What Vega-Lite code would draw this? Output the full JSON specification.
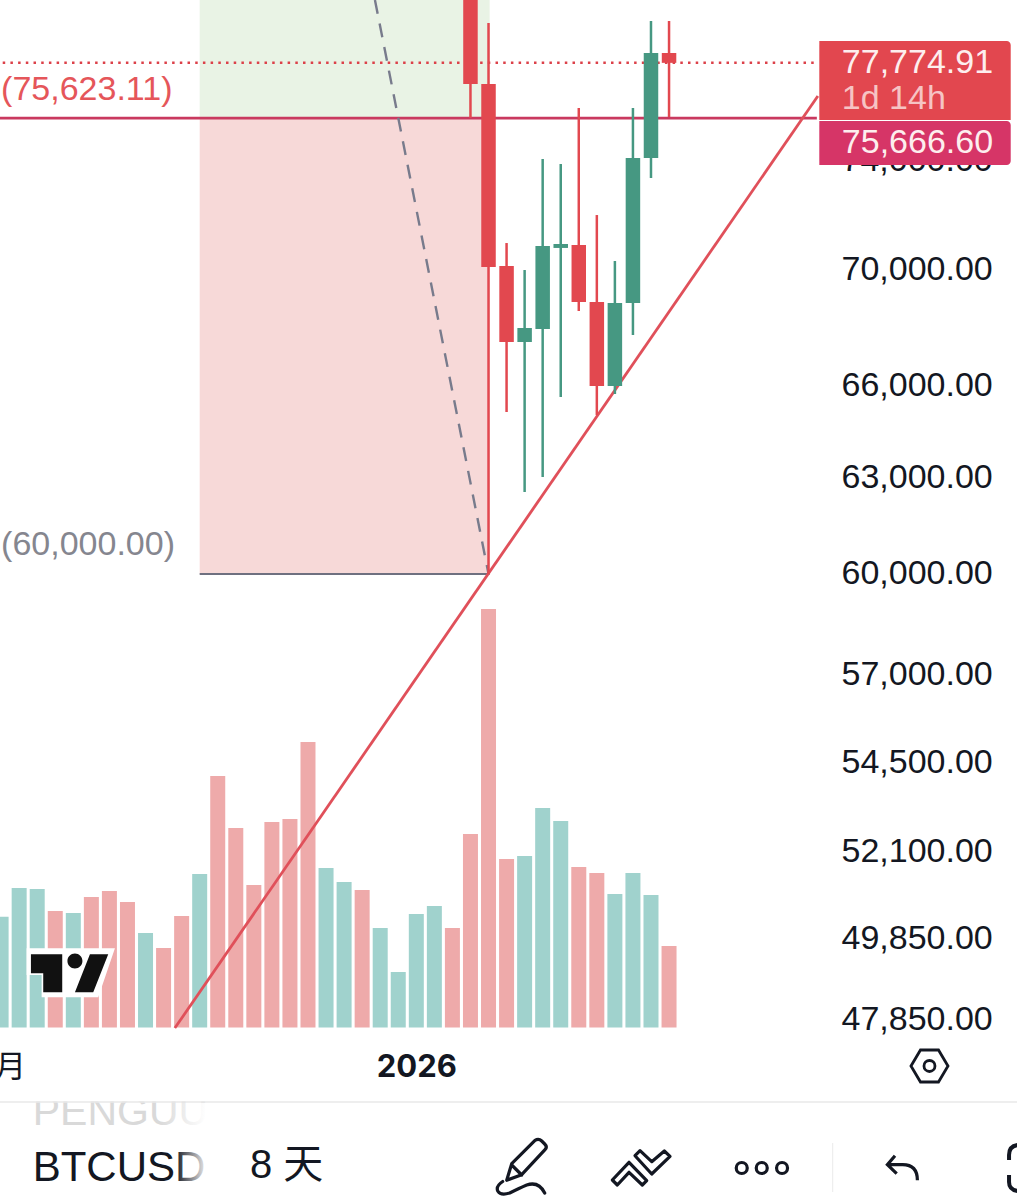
{
"$schema":"https://vega.github.io/schema/vega-lite/v6.json",
"width":1017,"height":1200,"autosize":"none","padding":0,"background":"#ffffff",
"config":{"view":{"stroke":null},"axis":{"grid":false}},
"datasets":{
"volume":[
{"date":"2025-07-01","volume":110.8,"dir":"up"},{"date":"2025-07-09","volume":139.5,"dir":"up"},{"date":"2025-07-17","volume":138.5,"dir":"up"},{"date":"2025-07-25","volume":116.5,"dir":"down"},{"date":"2025-08-02","volume":114.5,"dir":"up"},{"date":"2025-08-10","volume":130.5,"dir":"down"},{"date":"2025-08-18","volume":136.5,"dir":"down"},{"date":"2025-08-26","volume":125.5,"dir":"down"},{"date":"2025-09-03","volume":94.5,"dir":"up"},{"date":"2025-09-11","volume":79.5,"dir":"down"},{"date":"2025-09-19","volume":111.5,"dir":"down"},{"date":"2025-09-27","volume":153.5,"dir":"up"},{"date":"2025-10-05","volume":251.5,"dir":"down"},{"date":"2025-10-13","volume":199.5,"dir":"down"},{"date":"2025-10-21","volume":142.5,"dir":"down"},{"date":"2025-10-29","volume":205.5,"dir":"down"},{"date":"2025-11-06","volume":208.5,"dir":"down"},{"date":"2025-11-14","volume":285.5,"dir":"down"},{"date":"2025-11-22","volume":159.5,"dir":"up"},{"date":"2025-11-30","volume":145.5,"dir":"up"},{"date":"2025-12-08","volume":137.5,"dir":"down"},{"date":"2025-12-16","volume":99.5,"dir":"up"},{"date":"2025-12-24","volume":55.5,"dir":"up"},{"date":"2026-01-01","volume":113.5,"dir":"up"},{"date":"2026-01-09","volume":121.5,"dir":"up"},{"date":"2026-01-17","volume":99.5,"dir":"down"},{"date":"2026-01-25","volume":193.5,"dir":"down"},{"date":"2026-02-02","volume":418.5,"dir":"down"},{"date":"2026-02-10","volume":168.5,"dir":"down"},{"date":"2026-02-18","volume":171.5,"dir":"up"},{"date":"2026-02-26","volume":219.5,"dir":"up"},{"date":"2026-03-06","volume":206.5,"dir":"up"},{"date":"2026-03-14","volume":160.5,"dir":"down"},{"date":"2026-03-22","volume":154.5,"dir":"down"},{"date":"2026-03-30","volume":133.5,"dir":"up"},{"date":"2026-04-07","volume":154.5,"dir":"up"},{"date":"2026-04-15","volume":132.5,"dir":"up"},{"date":"2026-04-23","volume":81.5,"dir":"down"}],
"candles":[
{"date":"2026-01-25","open":82000,"close":76944,"high":84000,"low":75627,"dir":"down"},
{"date":"2026-02-02","open":76944,"close":70118,"high":79364,"low":60000,"dir":"down"},
{"date":"2026-02-10","open":70154,"close":67499,"high":70977,"low":65143,"dir":"down"},
{"date":"2026-02-18","open":67499,"close":67981,"high":70011,"low":62550,"dir":"up"},
{"date":"2026-02-26","open":67946,"close":70870,"high":74069,"low":63028,"dir":"up"},
{"date":"2026-03-06","open":70800,"close":70942,"high":73882,"low":65641,"dir":"up"},
{"date":"2026-03-14","open":70906,"close":68884,"high":76012,"low":68569,"dir":"down"},
{"date":"2026-03-22","open":68884,"close":66008,"high":71993,"low":65044,"dir":"down"},
{"date":"2026-03-30","open":66008,"close":68848,"high":70332,"low":65740,"dir":"up"},
{"date":"2026-04-07","open":68848,"close":74107,"high":76012,"low":67739,"dir":"up"},
{"date":"2026-04-15","open":74107,"close":78164,"high":79444,"low":73358,"dir":"up"},
{"date":"2026-04-23","open":78164,"close":77775,"high":79444,"low":75666,"dir":"down"}]
},
"layer":[
{"data":{"values":[{"price":60000}]},
 "mark":{"type":"rule","opacity":0},
 "encoding":{
  "y":{"field":"price","type":"quantitative","scale":{"type":"log","domain":[43667,80296],"nice":false},
    "axis":{"orient":"right","offset":-176,"title":null,"domain":false,"ticks":false,"tickSize":0,"labelPadding":0,"labelAlign":"left","labelBaseline":"middle","labelOffset":-0.5,"labelFont":"Liberation Sans","labelFontSize":34,"labelColor":"#131722","labelBound":false,"labelFlush":false,"labelOverlap":false,"format":",.2f","values":[47850,49850,52100,54500,57000,60000,63000,66000,70000,74000]}}
 }},
{"data":{"name":"volume"},
 "mark":{"type":"bar","size":15},
 "encoding":{
  "x":{"field":"date","type":"temporal","scale":{"type":"utc","domain":[1751285664000,1790225280000],"nice":false,"padding":0},
   "axis":{"orient":"bottom","offset":-133,"title":null,"domain":false,"ticks":false,"tickSize":0,"labelPadding":0,"values":[1751328000000,1767225600000],"labelExpr":"utcyear(datum.value)==2026?'2026':'7月'","labelFont":"Inter, 'Noto Sans CJK SC'","labelFontSize":31,"labelColor":"#131722","labelBaseline":"middle","labelAlign":"center","labelBound":false,"labelFlush":false,"labelOverlap":false,"labelFontWeight":{"condition":{"test":"utcyear(datum.value)==2026","value":"bold"},"value":"normal"}}},
  "y":{"field":"volume","type":"quantitative","stack":null,"scale":{"domain":[0,1027.5],"range":[1027.5,0],"nice":false},"axis":null},
  "color":{"condition":{"test":"datum.dir=='up'","value":"#a0d2cd"},"value":"#eeaaaa"}
 }},
{"layer":[
 {"data":{"values":[
   {"date":"2025-09-27","date2":"2026-02-02T12:00:00Z","top":80296,"bottom":75623,"zone":"profit"},
   {"date":"2025-09-27","date2":"2026-02-02T12:00:00Z","top":75623,"bottom":60000,"zone":"loss"}]},
  "mark":{"type":"rect"},
  "encoding":{
   "x":{"field":"date","type":"temporal"},"x2":{"field":"date2"},
   "y":{"field":"top","type":"quantitative","scale":{"type":"log","domain":[43667,80296],"nice":false},"axis":null},
   "y2":{"field":"bottom"},
   "color":{"condition":{"test":"datum.zone=='profit'","value":"#e9f3e5"},"value":"#f7d9d8"}
  }},
 {"data":{"values":[{"date":"2025-09-27","date2":"2026-02-02T12:00:00Z","price":60000}]},
  "mark":{"type":"rule","color":"#6f7080","strokeWidth":2.2},
  "encoding":{"x":{"field":"date","type":"temporal"},"x2":{"field":"date2"},"y":{"field":"price","type":"quantitative","scale":{"type":"log","domain":[43667,80296],"nice":false},"axis":null}}},
 {"data":{"values":[{"date":"2025-06-01","date2":"2026-06-27T12:00:00Z","price":75623}]},
  "mark":{"type":"rule","color":"#c9395f","strokeWidth":2.6,"clip":true},
  "encoding":{"x":{"field":"date","type":"temporal"},"x2":{"field":"date2"},"y":{"field":"price","type":"quantitative","scale":{"type":"log","domain":[43667,80296],"nice":false},"axis":null}}},
 {"data":{"values":[{"date":"2025-06-01","date2":"2026-06-27T12:00:00Z","price":77775}]},
  "mark":{"type":"rule","color":"#dc4049","strokeWidth":2.5,"strokeDash":[2.5,5.2],"clip":true},
  "encoding":{"x":{"field":"date","type":"temporal"},"x2":{"field":"date2"},"y":{"field":"price","type":"quantitative","scale":{"type":"log","domain":[43667,80296],"nice":false},"axis":null}}},
 {"data":{"values":[{"date":"2025-12-13T16:00:00Z","price":80296},{"date":"2026-02-02T00:00:00Z","price":60000}]},
  "mark":{"type":"line","color":"#787b8c","strokeWidth":2.4,"strokeDash":[14,10],"clip":true},
  "encoding":{"x":{"field":"date","type":"temporal"},"y":{"field":"price","type":"quantitative","scale":{"type":"log","domain":[43667,80296],"nice":false},"axis":null}}},
 {"data":{"values":[{"date":"2025-09-16T00:00:00Z","price":47649},{"date":"2026-06-27T23:00:00Z","price":76476}]},
  "mark":{"type":"line","color":"#e0505a","strokeWidth":2.8},
  "encoding":{"x":{"field":"date","type":"temporal"},"y":{"field":"price","type":"quantitative","scale":{"type":"log","domain":[43667,80296],"nice":false},"axis":null}}},
 {"data":{"name":"candles"},
  "mark":{"type":"rule","strokeWidth":2.5,"clip":true},
  "encoding":{"x":{"field":"date","type":"temporal"},"y":{"field":"high","type":"quantitative","scale":{"type":"log","domain":[43667,80296],"nice":false},"axis":null},"y2":{"field":"low"},
   "color":{"condition":{"test":"datum.dir=='up'","value":"#469882"},"value":"#e2484f"}}},
 {"data":{"name":"candles"},
  "mark":{"type":"bar","size":14.5,"clip":true},
  "encoding":{"x":{"field":"date","type":"temporal"},"y":{"field":"open","type":"quantitative","scale":{"type":"log","domain":[43667,80296],"nice":false},"axis":null},"y2":{"field":"close"},
   "color":{"condition":{"test":"datum.dir=='up'","value":"#469882"},"value":"#e2484f"}}},
 {"data":{"values":[
   {"date":"2026-06-28T14:00:00Z","date2":"2026-09-21T10:00:00Z","top":78642,"bottom":75552,"tag":"last"}]},
  "mark":{"type":"rect","cornerRadiusTopRight":4,"color":"#e2474f"},
  "encoding":{"x":{"field":"date","type":"temporal"},"x2":{"field":"date2"},"y":{"field":"top","type":"quantitative","scale":{"type":"log","domain":[43667,80296],"nice":false},"axis":null},"y2":{"field":"bottom"}}},
 {"data":{"values":[
   {"date":"2026-06-28T14:00:00Z","date2":"2026-09-21T10:00:00Z","top":75511,"bottom":73844,"tag":"line"}]},
  "mark":{"type":"rect","cornerRadiusTopRight":4,"cornerRadiusBottomRight":4,"color":"#d63567"},
  "encoding":{"x":{"field":"date","type":"temporal"},"x2":{"field":"date2"},"y":{"field":"top","type":"quantitative","scale":{"type":"log","domain":[43667,80296],"nice":false},"axis":null},"y2":{"field":"bottom"}}},
 {"data":{"values":[{"date":"2026-07-08T14:00:00Z","price":77770,"label":"77,774.91"},{"date":"2026-07-08T14:00:00Z","price":74675,"label":"75,666.60"}]},
  "mark":{"type":"text","align":"left","baseline":"middle","font":"Liberation Sans","fontSize":34,"color":"#fdeeee"},
  "encoding":{"x":{"field":"date","type":"temporal"},"y":{"field":"price","type":"quantitative","scale":{"type":"log","domain":[43667,80296],"nice":false},"axis":null},"text":{"field":"label"}}},
 {"data":{"values":[{"date":"2026-07-08T14:00:00Z","price":76360,"label":"1d 14h"}]},
  "mark":{"type":"text","align":"left","baseline":"middle","font":"Liberation Sans","fontSize":34,"color":"#f6c4c4"},
  "encoding":{"x":{"field":"date","type":"temporal"},"y":{"field":"price","type":"quantitative","scale":{"type":"log","domain":[43667,80296],"nice":false},"axis":null},"text":{"field":"label"}}},
 {"data":{"values":[{"date":"2025-07-01","price":76710,"label":"(75,623.11)"}]},
  "mark":{"type":"text","align":"left","baseline":"middle","font":"Liberation Sans","fontSize":34,"color":"#e5565a"},
  "encoding":{"x":{"field":"date","type":"temporal"},"y":{"field":"price","type":"quantitative","scale":{"type":"log","domain":[43667,80296],"nice":false},"axis":null},"text":{"field":"label"}}},
 {"data":{"values":[{"date":"2025-07-01","price":60890,"label":"(60,000.00)"}]},
  "mark":{"type":"text","align":"left","baseline":"middle","font":"Liberation Sans","fontSize":34,"color":"#85868f"},
  "encoding":{"x":{"field":"date","type":"temporal"},"y":{"field":"price","type":"quantitative","scale":{"type":"log","domain":[43667,80296],"nice":false},"axis":null},"text":{"field":"label"}}},
 {"data":{"values":[{"date":"2025-07-31T12:00:00Z","price":48991}]},
  "mark":{"type":"point","size":4,"filled":true,"opacity":1,"color":"#ffffff","shape":"M-43.3,-25 L45,-25 L28.3,24 L-28.3,24 L-28.3,1.7 L-43.3,1.7 Z"},
  "encoding":{"x":{"field":"date","type":"temporal"},"y":{"field":"price","type":"quantitative","scale":{"type":"log","domain":[43667,80296],"nice":false},"axis":null}}},
 {"data":{"values":[{"date":"2025-07-31T12:00:00Z","price":48991}]},
  "mark":{"type":"point","size":4,"filled":true,"opacity":1,"color":"#111111","shape":"M-39,-19 L-7.7,-19 L-7.7,19 L-26.7,19 L-26.7,0 L-39,0 Z M20,-19 L38.3,-19 L23.3,19 L5,19 Z M12.5,-12.3 A7.5,7.5 0 1 1 -2.5,-12.3 A7.5,7.5 0 1 1 12.5,-12.3 Z"},
  "encoding":{"x":{"field":"date","type":"temporal"},"y":{"field":"price","type":"quantitative","scale":{"type":"log","domain":[43667,80296],"nice":false},"axis":null}}},
 {"data":{"values":[{"date":"2025-07-15T00:00:00Z","price":45640,"label":"PENGUU"}]},
  "mark":{"type":"text","align":"left","baseline":"middle","font":"Liberation Sans","fontSize":41,"color":"#d9d9d9"},
  "encoding":{"x":{"field":"date","type":"temporal"},"y":{"field":"price","type":"quantitative","scale":{"type":"log","domain":[43667,80296],"nice":false},"axis":null},"text":{"field":"label"}}},
 {"data":{"values":[{"date":"2025-07-01","date2":"2025-10-10","top":46408,"bottom":45904}]},
  "mark":{"type":"rect","color":"#ffffff"},
  "encoding":{"x":{"field":"date","type":"temporal"},"x2":{"field":"date2"},"y":{"field":"top","type":"quantitative","scale":{"type":"log","domain":[43667,80296],"nice":false},"axis":null},"y2":{"field":"bottom"}}},
 {"data":{"values":[{"date":"2025-06-01","date2":"2026-12-01","price":45894}]},
  "mark":{"type":"rule","color":"#e8e8e8","strokeWidth":1.5,"clip":true},
  "encoding":{"x":{"field":"date","type":"temporal"},"x2":{"field":"date2"},"y":{"field":"price","type":"quantitative","scale":{"type":"log","domain":[43667,80296],"nice":false},"axis":null}}},
 {"data":{"values":[{"date":"2025-07-15T00:00:00Z","price":44382,"label":"BTCUSD"}]},
  "mark":{"type":"text","align":"left","baseline":"middle","font":"Liberation Sans","fontSize":42,"color":"#131722"},
  "encoding":{"x":{"field":"date","type":"temporal"},"y":{"field":"price","type":"quantitative","scale":{"type":"log","domain":[43667,80296],"nice":false},"axis":null},"text":{"field":"label"}}},
 {"data":{"values":[{"date":"2025-09-09","date2":"2025-09-30","top":45870,"bottom":45246},{"date":"2025-09-16","date2":"2025-10-01","top":44903,"bottom":43778}]},
  "mark":{"type":"rect","fill":{"gradient":"linear","x1":0,"y1":0,"x2":1,"y2":0,"stops":[{"offset":0,"color":"rgba(255,255,255,0)"},{"offset":1,"color":"rgba(255,255,255,1)"}]}},
  "encoding":{"x":{"field":"date","type":"temporal"},"x2":{"field":"date2"},"y":{"field":"top","type":"quantitative","scale":{"type":"log","domain":[43667,80296],"nice":false},"axis":null},"y2":{"field":"bottom"}}},
 {"data":{"values":[{"date":"2025-10-19T07:00:00Z","price":44420,"label":"8 天"}]},
  "mark":{"type":"text","align":"left","baseline":"middle","font":"Liberation Sans, 'Noto Sans CJK SC'","fontSize":40,"color":"#131722"},
  "encoding":{"x":{"field":"date","type":"temporal"},"y":{"field":"price","type":"quantitative","scale":{"type":"log","domain":[43667,80296],"nice":false},"axis":null},"text":{"field":"label"}}},
 {"data":{"values":[{"date":"2026-07-04T12:00:00Z","top":44949,"bottom":43844}]},
  "mark":{"type":"rule","color":"#eeeeee","strokeWidth":1.2},
  "encoding":{"x":{"field":"date","type":"temporal"},"y":{"field":"top","type":"quantitative","scale":{"type":"log","domain":[43667,80296],"nice":false},"axis":null},"y2":{"field":"bottom"}}},
 {"data":{"values":[{"date":"2026-02-16T17:00:00Z","price":44382}]},
  "mark":{"type":"point","size":4,"filled":false,"opacity":1,"stroke":"#131722","strokeWidth":3.2,"strokeJoin":"round","strokeCap":"round","shape":"M-15,12.3 L-10,-4.3 L13.3,-27.7 Q17,-30 20,-27 L23,-24 Q26,-21 23.3,-18.3 L0,6.7 Z M-10,-3 L0,7 M-19,13.5 Q-26,18 -24,23 Q-21,28 -12,25 Q-2,20 5,17 Q17,13 23,25"},
  "encoding":{"x":{"field":"date","type":"temporal"},"y":{"field":"price","type":"quantitative","scale":{"type":"log","domain":[43667,80296],"nice":false},"axis":null}}},
 {"data":{"values":[{"date":"2026-04-10T14:00:00Z","price":44382}]},
  "mark":{"type":"point","size":4,"filled":false,"opacity":1,"stroke":"#131722","strokeWidth":3.2,"strokeJoin":"round","strokeCap":"round","shape":"M-28.7,12 L-12,-5.7 L5.7,12.7 L1.3,17 L-12,4.3 L-23.7,17 Z M-6,-12.3 L-1,-17.3 L10.7,-6.3 L23.3,-17 L29,-11.7 L10.7,6 Z"},
  "encoding":{"x":{"field":"date","type":"temporal"},"y":{"field":"price","type":"quantitative","scale":{"type":"log","domain":[43667,80296],"nice":false},"axis":null}}},
 {"data":{"values":[{"date":"2026-06-03T02:00:00Z","price":44382}]},
  "mark":{"type":"point","size":4,"filled":false,"opacity":1,"stroke":"#131722","strokeWidth":3.2,"shape":"M-14.5,0 A5.5,5.5 0 1 1 -25.5,0 A5.5,5.5 0 1 1 -14.5,0 Z M5.5,0 A5.5,5.5 0 1 1 -5.5,0 A5.5,5.5 0 1 1 5.5,0 Z M25.8,0 A5.5,5.5 0 1 1 14.8,0 A5.5,5.5 0 1 1 25.8,0 Z"},
  "encoding":{"x":{"field":"date","type":"temporal"},"y":{"field":"price","type":"quantitative","scale":{"type":"log","domain":[43667,80296],"nice":false},"axis":null}}},
 {"data":{"values":[{"date":"2026-08-04T13:00:00Z","price":44382}]},
  "mark":{"type":"point","size":4,"filled":false,"opacity":1,"stroke":"#131722","strokeWidth":3.2,"shape":"M-7.7,-12.3 L-15.3,-3.3 L-6,5.7 M-15.3,-3.3 L0,-3.3 Q14.7,-3.3 14.7,12.3"},
  "encoding":{"x":{"field":"date","type":"temporal"},"y":{"field":"price","type":"quantitative","scale":{"type":"log","domain":[43667,80296],"nice":false},"axis":null}}},
 {"data":{"values":[{"date":"2026-09-22","price":44382}]},
  "mark":{"type":"point","size":4,"filled":false,"opacity":1,"stroke":"#131722","strokeWidth":4,"shape":"M6,-23 Q-3,-22 -3,-13 L-3,-8 M-3,7 L-3,14 Q-3,22 6,23"},
  "encoding":{"x":{"field":"date","type":"temporal"},"y":{"field":"price","type":"quantitative","scale":{"type":"log","domain":[43667,80296],"nice":false},"axis":null}}},
 {"data":{"values":[{"date":"2026-08-16T10:00:00Z","price":46741}]},
  "mark":{"type":"point","size":4,"filled":false,"opacity":1,"stroke":"#131722","strokeWidth":2.8,"shape":"M-18.5,0 L-9,-16 L9,-16 L18.5,0 L9,16 L-9,16 Z M5.5,0 A5.5,5.5 0 1 1 -5.5,0 A5.5,5.5 0 1 1 5.5,0 Z"},
  "encoding":{"x":{"field":"date","type":"temporal"},"y":{"field":"price","type":"quantitative","scale":{"type":"log","domain":[43667,80296],"nice":false},"axis":null}}}
]}
],
"resolve":{"scale":{"y":"independent"}}
}
